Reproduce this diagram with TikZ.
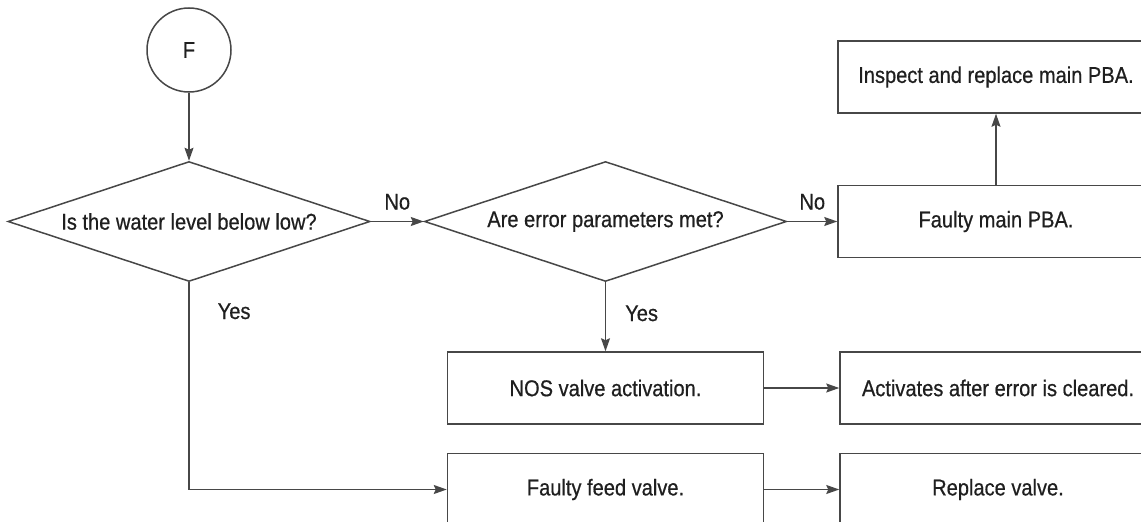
\documentclass[tikz,border=0pt]{standalone}
\usepackage{fontspec}
\setmainfont{Liberation Sans}[FakeStretch=0.88,FakeBold=0.6]
\usetikzlibrary{positioning,shapes.geometric,arrows.meta}
\tikzset{
	nosbase/.style={
		draw=black!72,
		line width=1.5pt,
		align=center,
		text=black!88,
		font=\fontsize{22.8}{26}\selectfont
	},
	nosStart/.style={nosbase, circle, minimum size=84pt, inner sep=0pt},
	nosDecision/.style={nosbase, diamond, aspect=3, inner sep=2pt,
		minimum width=362pt, minimum height=120pt},
	nosStep/.style={nosbase, rectangle, minimum width=316pt, minimum height=72pt},
	nosFlow/.style={-{Stealth[length=13pt,width=9pt,inset=2pt]}, line width=1.5pt, draw=black!72},
	nosLabel/.style={inner sep=0pt, text=black!88, font=\fontsize{22.8}{26}\selectfont}
}
\begin{document}
\begin{tikzpicture}[x=1pt,y=-1pt]

	\useasboundingbox (0,0) rectangle (1141,522);

	% Start
	\node[nosStart] (start) at (189,50) {F};

	% Decisions
	\node[nosDecision, below=68pt of start] (level) {Is the water level below low?};
	\node[nosDecision, right=53pt of level] (params) {Are error parameters met?};

	% Main PBA branch
	\node[nosStep, right=50pt of params] (pba) {Faulty main PBA.};
	\node[nosStep, above=71pt of pba] (inspect) {Inspect and replace main PBA.};

	% NOS valve branch
	\node[nosStep, below=69pt of params] (nosvalve) {NOS valve activation.};
	\node[nosStep, right=75pt of nosvalve] (activates) {Activates after error is cleared.};

	% Feed valve branch
	\node[nosStep, below=28pt of nosvalve] (feed) {Faulty feed valve.};
	\node[nosStep, right=75pt of feed] (replace) {Replace valve.};

	% Flows
	\draw[nosFlow] (start) -- (level);
	\draw[nosFlow] (level.east) -- node[nosLabel, above=11pt]{No} (params.west);
	\draw[nosFlow] (params.east) -- node[nosLabel, above=11pt]{No} (pba.west);
	\draw[nosFlow] (pba) -- (inspect);
	\draw[nosFlow] (params.south) -- node[nosLabel, pos=0.45, right=19pt]{Yes} (nosvalve);
	\draw[nosFlow] (nosvalve) -- (activates);
	\draw[nosFlow] (level.south) |- node[nosLabel, pos=0.07, right=28pt]{Yes} (feed.west);
	\draw[nosFlow] (feed) -- (replace);

\end{tikzpicture}
\end{document}
